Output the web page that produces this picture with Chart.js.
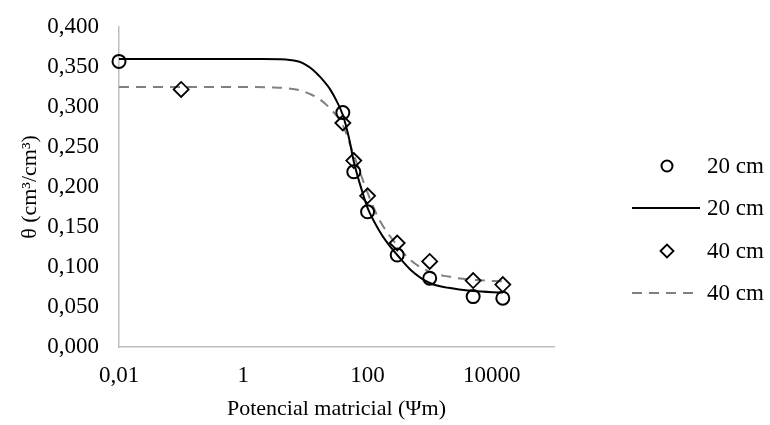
<!DOCTYPE html>
<html>
<head>
<meta charset="utf-8">
<script src="https://cdn.jsdelivr.net/npm/chart.js@4.4.0/dist/chart.umd.min.js"></script>
<style>
  html, body { margin: 0; padding: 0; background: #fff; }
  #wrap { width: 770px; height: 425px; }
</style>
</head>
<body>
<div id="wrap"><canvas id="chart" width="770" height="425"></canvas></div>
<script>
// measured points
const psi20 = [0.01, 40, 60, 100, 300, 1000, 5000, 15000];
const theta20 = [0.357, 0.293, 0.219, 0.169, 0.115, 0.086, 0.063, 0.061];
const psi40 = [0.1, 40, 60, 100, 300, 1000, 5000, 15000];
const theta40 = [0.322, 0.280, 0.233, 0.189, 0.130, 0.107, 0.083, 0.078];

// fitted curves
const fitPsi20 = [0.01, 0.1, 1, 2, 4, 6, 8, 10, 13, 18, 25, 32, 40, 50, 60, 80, 100, 150, 200, 300, 500, 1000, 2000, 5000, 15000];
const fitTheta20 = [0.360, 0.360, 0.360, 0.360, 0.3598, 0.3585, 0.3565, 0.353, 0.347, 0.336, 0.322, 0.307, 0.290, 0.262, 0.232, 0.197, 0.174, 0.147, 0.132, 0.115, 0.096, 0.080, 0.074, 0.070, 0.068];
const fitPsi40 = [0.01, 0.1, 1, 3, 5, 8, 12, 16, 25, 40, 60, 100, 150, 200, 300, 500, 1000, 2000, 5000, 15000];
const fitTheta40 = [0.325, 0.325, 0.325, 0.3245, 0.3235, 0.321, 0.316, 0.311, 0.298, 0.277, 0.240, 0.193, 0.161, 0.145, 0.127, 0.108, 0.094, 0.088, 0.084, 0.082];

const seriesLabels = ['20 cm', '20 cm', '40 cm', '40 cm'];
const xTicks = [0.01, 1, 100, 10000];

const toXY = (xs, ys) => xs.map((x, i) => ({ x: x, y: ys[i] }));
const FONT = 'Liberation Serif, Times New Roman, serif';

// legend drawn by hand so that markers and lines sit like the original
const sideLegend = {
    id: 'sideLegend',
    afterDraw(chart) {
        const ctx = chart.ctx;
        const rows = [166, 208, 251, 293];
        const cx = 667, x0 = 632, x1 = 700, tx = 707;
        chart.data.datasets.forEach((ds, i) => {
            const y = rows[i];
            ctx.save();
            if (ds.showLine) {
                ctx.strokeStyle = ds.borderColor;
                ctx.lineWidth = ds.borderWidth;
                ctx.setLineDash(ds.borderDash || []);
                ctx.beginPath();
                ctx.moveTo(x0, y);
                ctx.lineTo(x1, y);
                ctx.stroke();
            } else {
                ctx.strokeStyle = ds.pointBorderColor;
                ctx.lineWidth = ds.pointBorderWidth;
                Chart.helpers.drawPoint(ctx, {
                    pointStyle: ds.pointStyle,
                    radius: ds.pointStyle === 'circle' ? 5.5 : 6.5,
                    borderWidth: ds.pointBorderWidth
                }, cx, y);
            }
            ctx.fillStyle = '#000';
            ctx.font = '23px ' + FONT;
            ctx.textBaseline = 'middle';
            ctx.fillText(ds.label, tx, y + 1);
            ctx.restore();
        });
    }
};

const ctx = document.getElementById('chart').getContext('2d');
new Chart(ctx, {
    type: 'scatter',
    data: {
        datasets: [
            {
                label: seriesLabels[0],
                data: toXY(psi20, theta20),
                pointStyle: 'circle',
                pointRadius: 6.5,
                pointBorderWidth: 2,
                pointBorderColor: '#000',
                pointBackgroundColor: 'rgba(0,0,0,0)',
                showLine: false,
                clip: false
            },
            {
                label: seriesLabels[1],
                data: toXY(fitPsi20, fitTheta20),
                showLine: true,
                borderColor: '#000',
                borderWidth: 2,
                pointRadius: 0,
                cubicInterpolationMode: 'monotone',
                clip: false
            },
            {
                label: seriesLabels[2],
                data: toXY(psi40, theta40),
                pointStyle: 'rectRot',
                pointRadius: 7.5,
                pointBorderWidth: 1.8,
                pointBorderColor: '#000',
                pointBackgroundColor: 'rgba(0,0,0,0)',
                showLine: false,
                clip: false
            },
            {
                label: seriesLabels[3],
                data: toXY(fitPsi40, fitTheta40),
                showLine: true,
                borderColor: '#808080',
                borderWidth: 2,
                borderDash: [10, 7],
                pointRadius: 0,
                cubicInterpolationMode: 'monotone',
                clip: false
            }
        ]
    },
    options: {
        responsive: false,
        animation: false,
        layout: { padding: { left: 0, right: 216, top: 27, bottom: 0 } },
        plugins: {
            legend: { display: false },
            tooltip: { enabled: false }
        },
        scales: {
            x: {
                type: 'logarithmic',
                min: 0.01,
                max: 100000,
                grid: { display: false, drawTicks: false },
                border: { display: true, color: '#bfbfbf', width: 1.5 },
                afterBuildTicks: (scale) => {
                    scale.ticks = xTicks.map(v => ({ value: v }));
                },
                afterFit: (scale) => { scale.height = 78; },
                ticks: {
                    padding: 15,
                    color: '#000',
                    font: { family: FONT, size: 23 },
                    maxRotation: 0,
                    callback: (v) => String(v).replace('.', ',')
                },
                title: {
                    display: true,
                    text: 'Potencial matricial (Ψm)',
                    color: '#000',
                    font: { family: FONT, size: 22 },
                    padding: { top: 0, bottom: 3 }
                }
            },
            y: {
                min: 0,
                max: 0.4,
                grid: { display: false, drawTicks: false },
                border: { display: true, color: '#bfbfbf', width: 1.5 },
                afterFit: (scale) => {
                    scale.width = 119;
                    scale.paddingTop = 0;
                    scale.paddingBottom = 0;
                },
                ticks: {
                    stepSize: 0.05,
                    padding: 20,
                    color: '#000',
                    font: { family: FONT, size: 23 },
                    callback: (v) => v.toFixed(3).replace('.', ',')
                },
                title: {
                    display: true,
                    text: 'θ (cm³/cm³)',
                    color: '#000',
                    font: { family: FONT, size: 22 },
                    padding: { top: 17, bottom: 0 }
                }
            }
        }
    },
    plugins: [sideLegend]
});
</script>
</body>
</html>
